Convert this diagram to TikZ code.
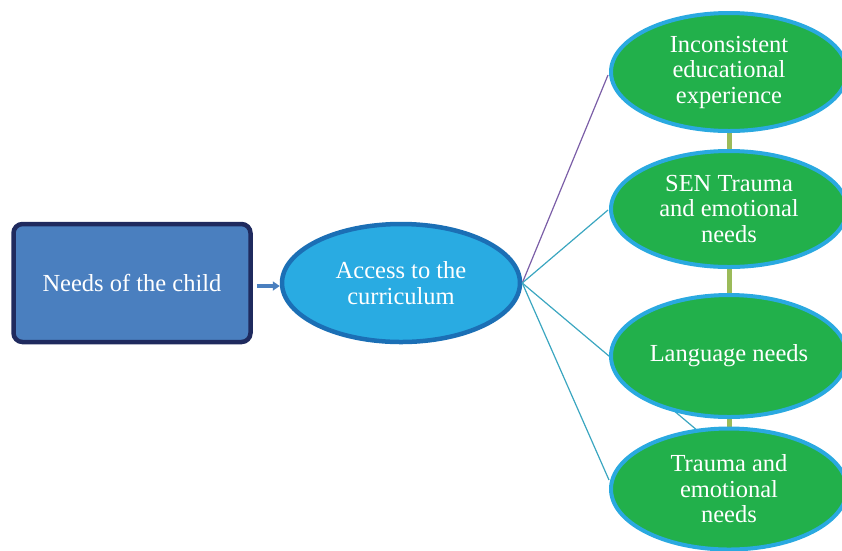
\documentclass[tikz,border=0pt]{standalone}
\usepackage{fontspec}
\setmainfont{Liberation Serif}
\usetikzlibrary{shapes.geometric,arrows.meta}
\definecolor{navy}{HTML}{1F2A5E}
\definecolor{boxblue}{HTML}{4A7FBF}
\definecolor{skyfill}{HTML}{29ABE2}
\definecolor{skyrim}{HTML}{1B6FB5}
\definecolor{leaf}{HTML}{22B04B}
\definecolor{leafrim}{HTML}{2AA9E0}
\definecolor{olive}{HTML}{9BBB59}
\definecolor{plum}{HTML}{7B5EA7}
\definecolor{teal}{HTML}{3AA6C0}
\tikzset{
  every node/.style={text=white, font=\fontsize{24.5}{25.5}\selectfont, align=center},
  childbox/.style={draw=navy, line width=4.5pt, fill=boxblue, rounded corners=9pt,
    minimum width=237pt, minimum height=118pt},
  hub/.style={ellipse, draw=skyrim, line width=4.5pt, fill=skyfill,
    minimum width=238pt, minimum height=118pt, inner sep=0pt},
  leafnode/.style={ellipse, draw=leafrim, line width=4pt, fill=leaf,
    minimum width=236pt, inner sep=0pt},
  spoke/.style={line width=1.2pt},
  stem/.style={draw=olive, line width=5pt},
}
\begin{document}
\begin{tikzpicture}[x=1pt, y=-1pt]
\useasboundingbox (0,0) rectangle (842,550);
\clip (0,0) rectangle (842,550);

% centre row
\node[childbox] (child) at (132,283) {Needs of the child};
\node[hub] (hub) at (401,283) {Access to the\\curriculum};

% right-hand column of needs
\coordinate (l1) at (729,72);
\coordinate (l2) at (729,209);
\coordinate (l3) at (729,356);
\coordinate (l4) at (729,489);

% olive stems between the needs
\draw[stem] (l1) -- (l2);
\draw[stem] (l2) -- (l3);
\draw[stem] (l3) -- (l4);

% spokes from the hub
\coordinate (tip) at (698,431);
\draw[spoke, draw=teal] (hub.east) -- (tip);
\draw[spoke, draw=plum] (hub.east) -- (608,75);
\draw[spoke, draw=teal] (hub.east) -- (608,210);
\draw[spoke, draw=teal] (hub.east) -- (609,480);

\node[leafnode, minimum height=118pt] (n1) at (l1) {Inconsistent\\educational\\experience};
\node[leafnode, minimum height=116pt] (n2) at (l2) {SEN Trauma\\and emotional\\needs};
\node[leafnode, minimum height=122pt] (n3) at (l3) {Language needs};
\node[leafnode, minimum height=121pt] (n4) at (l4) {Trauma and\\emotional\\needs};

% arrow from child to hub
\draw[-{Triangle[length=7pt,width=9pt]}, draw=boxblue, line width=3.5pt]
  (child.east) ++(4,3) -- (hub.west |- 0,286);
\end{tikzpicture}
\end{document}
